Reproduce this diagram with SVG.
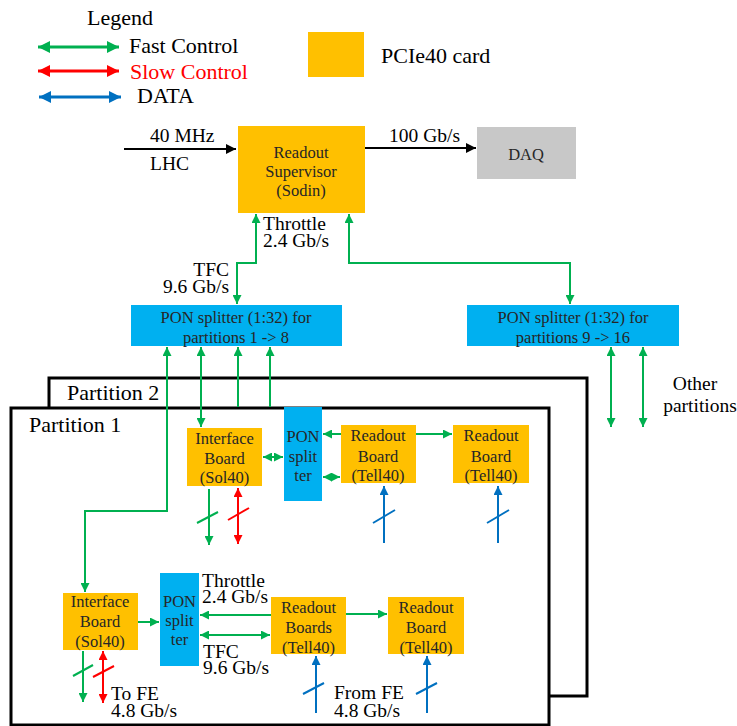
<svg xmlns="http://www.w3.org/2000/svg" width="737" height="726" viewBox="0 0 737 726" font-family="'Liberation Serif', 'DejaVu Serif', serif">
<style>
text{font-family:'Liberation Serif','DejaVu Serif',serif;fill:#000}
.lg{font-size:22px}
.lb{font-size:19.5px}
.bx{font-size:16.5px;fill:#262626;text-anchor:middle}
.card{fill:#ffc000}
.pon{fill:#00b0f0}
.g{stroke:#00b050;stroke-width:2;fill:none}
.r{stroke:#ff0000;stroke-width:2;fill:none}
.b{stroke:#0070c0;stroke-width:2;fill:none}
.k{stroke:#000;stroke-width:2;fill:none}
.frame{stroke:#000;stroke-width:3}
</style>
<defs>
<marker id="ag" viewBox="0 0 10 10" refX="10" refY="5" markerWidth="9" markerHeight="9" markerUnits="userSpaceOnUse" orient="auto-start-reverse"><path d="M0,0 L10,5 L0,10 z" fill="#00b050"/></marker>
<marker id="ar" viewBox="0 0 10 10" refX="10" refY="5" markerWidth="9" markerHeight="9" markerUnits="userSpaceOnUse" orient="auto-start-reverse"><path d="M0,0 L10,5 L0,10 z" fill="#ff0000"/></marker>
<marker id="ab" viewBox="0 0 10 10" refX="10" refY="5" markerWidth="9" markerHeight="9" markerUnits="userSpaceOnUse" orient="auto-start-reverse"><path d="M0,0 L10,5 L0,10 z" fill="#0070c0"/></marker>
<marker id="ak" viewBox="0 0 10 10" refX="10" refY="5" markerWidth="10" markerHeight="10" markerUnits="userSpaceOnUse" orient="auto-start-reverse"><path d="M0,0 L10,5 L0,10 z" fill="#000"/></marker>
<marker id="lg" viewBox="0 0 10 10" refX="10" refY="5" markerWidth="12" markerHeight="12" markerUnits="userSpaceOnUse" orient="auto-start-reverse"><path d="M0,0 L10,5 L0,10 z" fill="#00b050"/></marker>
<marker id="lr" viewBox="0 0 10 10" refX="10" refY="5" markerWidth="12" markerHeight="12" markerUnits="userSpaceOnUse" orient="auto-start-reverse"><path d="M0,0 L10,5 L0,10 z" fill="#ff0000"/></marker>
<marker id="lb" viewBox="0 0 10 10" refX="10" refY="5" markerWidth="12" markerHeight="12" markerUnits="userSpaceOnUse" orient="auto-start-reverse"><path d="M0,0 L10,5 L0,10 z" fill="#0070c0"/></marker>
</defs>

<g id="legend">
<text class="lg" x="87" y="25">Legend</text>
<line x1="38" y1="47" x2="119" y2="47" stroke="#00b050" stroke-width="3" marker-start="url(#lg)" marker-end="url(#lg)"/>
<line x1="38" y1="71" x2="119" y2="71" stroke="#ff0000" stroke-width="3" marker-start="url(#lr)" marker-end="url(#lr)"/>
<line x1="39" y1="97" x2="121" y2="97" stroke="#0070c0" stroke-width="3" marker-start="url(#lb)" marker-end="url(#lb)"/>
<text class="lg" x="129" y="53">Fast Control</text>
<text class="lg" x="130" y="79" style="fill:#ff0000">Slow Control</text>
<text class="lg" x="137" y="103">DATA</text>
<rect class="card" x="308" y="32" width="56" height="45"/>
<text class="lg" x="381" y="63">PCIe40 card</text>
</g>

<g id="partition2">
<rect class="frame" x="49" y="378" width="538" height="318" fill="#fff"/>
<text class="lg" x="67" y="400">Partition 2</text>
</g>
<g id="partition1">
<rect class="frame" x="11" y="408" width="538" height="317" fill="#fff"/>
<text class="lg" x="29" y="432">Partition 1</text>
</g>

<g id="supervisor">
<rect class="card" x="238" y="126" width="127" height="87"/>
<text class="bx" x="301" y="158">Readout</text>
<text class="bx" x="301" y="177">Supervisor</text>
<text class="bx" x="301" y="196">(Sodin)</text>
</g>
<g id="daq">
<rect x="477" y="127" width="99" height="52" fill="#c8c8c8"/>
<text class="bx" x="526" y="160">DAQ</text>
</g>
<g id="pon1">
<rect class="pon" x="131" y="305" width="211" height="41"/>
<text class="bx" x="236" y="323">PON splitter (1:32) for</text>
<text class="bx" x="236" y="343">partitions 1 -&gt; 8</text>
</g>
<g id="pon2">
<rect class="pon" x="467" y="305" width="212" height="41"/>
<text class="bx" x="573" y="323">PON splitter (1:32) for</text>
<text class="bx" x="573" y="343">partitions 9 -&gt; 16</text>
</g>

<g id="iface1">
<rect class="card" x="187" y="428" width="75" height="58"/>
<text class="bx" x="224.5" y="444">Interface</text>
<text class="bx" x="224.5" y="464">Board</text>
<text class="bx" x="224.5" y="483">(Sol40)</text>
</g>
<g id="ponsplit1">
<rect class="pon" x="284" y="407" width="38" height="94"/>
<text class="bx" x="303" y="442">PON</text>
<text class="bx" x="303" y="462">split</text>
<text class="bx" x="303" y="481">ter</text>
</g>
<g id="readout1a">
<rect class="card" x="341" y="425" width="75" height="58"/>
<text class="bx" x="378" y="441">Readout</text>
<text class="bx" x="378" y="462">Board</text>
<text class="bx" x="378" y="481">(Tell40)</text>
</g>
<g id="readout1b">
<rect class="card" x="453" y="425" width="76" height="58"/>
<text class="bx" x="491" y="441">Readout</text>
<text class="bx" x="491" y="462">Board</text>
<text class="bx" x="491" y="481">(Tell40)</text>
</g>

<g id="iface2">
<rect class="card" x="63" y="593" width="75" height="57"/>
<text class="bx" x="100" y="607">Interface</text>
<text class="bx" x="100" y="627">Board</text>
<text class="bx" x="100" y="647">(Sol40)</text>
</g>
<g id="ponsplit2">
<rect class="pon" x="160" y="573" width="39" height="93"/>
<text class="bx" x="179.5" y="607">PON</text>
<text class="bx" x="179.5" y="626">split</text>
<text class="bx" x="179.5" y="645">ter</text>
</g>
<g id="readout2a">
<rect class="card" x="271" y="597" width="75" height="57"/>
<text class="bx" x="308.5" y="613">Readout</text>
<text class="bx" x="308.5" y="633">Boards</text>
<text class="bx" x="308.5" y="653">(Tell40)</text>
</g>
<g id="readout2b">
<rect class="card" x="388" y="597" width="76" height="57"/>
<text class="bx" x="426" y="613">Readout</text>
<text class="bx" x="426" y="633">Board</text>
<text class="bx" x="426" y="653">(Tell40)</text>
</g>

<g id="connectors">
<line class="k" x1="124" y1="149" x2="236" y2="149" marker-end="url(#ak)"/>
<line class="k" x1="365" y1="148" x2="476" y2="148" marker-end="url(#ak)"/>
<polyline class="g" points="256,214 256,263 237,263 237,304" marker-start="url(#ag)" marker-end="url(#ag)"/>
<polyline class="g" points="349,214 349,263 570,263 570,304" marker-start="url(#ag)" marker-end="url(#ag)"/>
<polyline class="g" points="167,347 167,511 85,511 85,592" marker-start="url(#ag)" marker-end="url(#ag)"/>
<line class="g" x1="201" y1="347" x2="201" y2="427" marker-start="url(#ag)" marker-end="url(#ag)"/>
<line class="g" x1="238" y1="407" x2="238" y2="347" marker-end="url(#ag)"/>
<line class="g" x1="270" y1="407" x2="270" y2="347" marker-end="url(#ag)"/>
<line class="g" x1="611" y1="347" x2="611" y2="427" marker-start="url(#ag)" marker-end="url(#ag)"/>
<line class="g" x1="643" y1="347" x2="643" y2="427" marker-start="url(#ag)" marker-end="url(#ag)"/>
<line class="g" x1="341" y1="434" x2="323" y2="434" marker-end="url(#ag)"/>
<line class="g" x1="416" y1="434" x2="452" y2="434" marker-end="url(#ag)"/>
<line class="g" x1="263" y1="457" x2="283" y2="457" marker-start="url(#ag)" marker-end="url(#ag)"/>
<line class="g" x1="323" y1="477" x2="340" y2="477" marker-start="url(#ag)" marker-end="url(#ag)"/>
<line class="g" x1="209" y1="489" x2="209" y2="545" marker-end="url(#ag)"/>
<line class="g" x1="197" y1="523" x2="218" y2="512"/>
<line class="r" x1="238" y1="488" x2="238" y2="544" marker-start="url(#ar)" marker-end="url(#ar)"/>
<line class="r" x1="228" y1="520" x2="249" y2="508"/>
<line class="b" x1="384" y1="543" x2="384" y2="486" marker-end="url(#ab)"/>
<line class="b" x1="373" y1="523" x2="395" y2="510"/>
<line class="b" x1="498" y1="543" x2="498" y2="486" marker-end="url(#ab)"/>
<line class="b" x1="487" y1="523" x2="509" y2="510"/>
<line class="g" x1="138" y1="622" x2="159" y2="622" marker-end="url(#ag)"/>
<line class="g" x1="271" y1="615" x2="200" y2="615" marker-end="url(#ag)"/>
<line class="g" x1="200" y1="635" x2="270" y2="635" marker-start="url(#ag)" marker-end="url(#ag)"/>
<line class="g" x1="346" y1="614" x2="387" y2="614" marker-end="url(#ag)"/>
<line class="g" x1="83" y1="651" x2="83" y2="702" marker-end="url(#ag)"/>
<line class="g" x1="73" y1="676" x2="93" y2="665"/>
<line class="r" x1="103" y1="651" x2="103" y2="703" marker-start="url(#ar)" marker-end="url(#ar)"/>
<line class="r" x1="93" y1="677" x2="114" y2="666"/>
<line class="b" x1="316" y1="713" x2="316" y2="656" marker-end="url(#ab)"/>
<line class="b" x1="303" y1="694" x2="324" y2="683"/>
<line class="b" x1="427" y1="713" x2="427" y2="656" marker-end="url(#ab)"/>
<line class="b" x1="416" y1="694" x2="437" y2="683"/>
</g>

<g id="labels">
<text class="lb" x="150" y="142">40 MHz</text>
<text class="lb" x="150" y="170">LHC</text>
<text class="lb" x="389" y="142">100 Gb/s</text>
<text class="lb" x="263" y="230">Throttle</text>
<text class="lb" x="263" y="247">2.4 Gb/s</text>
<text class="lb" x="229" y="276" text-anchor="end">TFC</text>
<text class="lb" x="229" y="293" text-anchor="end">9.6 Gb/s</text>
<text class="lb" x="695" y="390" text-anchor="middle">Other</text>
<text class="lb" x="700" y="412" text-anchor="middle">partitions</text>
<text class="lb" x="202" y="587">Throttle</text>
<text class="lb" x="202" y="603">2.4 Gb/s</text>
<text class="lb" x="203" y="658">TFC</text>
<text class="lb" x="203" y="674">9.6 Gb/s</text>
<text class="lb" x="111" y="700">To FE</text>
<text class="lb" x="111" y="717">4.8 Gb/s</text>
<text class="lb" x="334" y="699">From FE</text>
<text class="lb" x="334" y="717">4.8 Gb/s</text>
</g>
</svg>
